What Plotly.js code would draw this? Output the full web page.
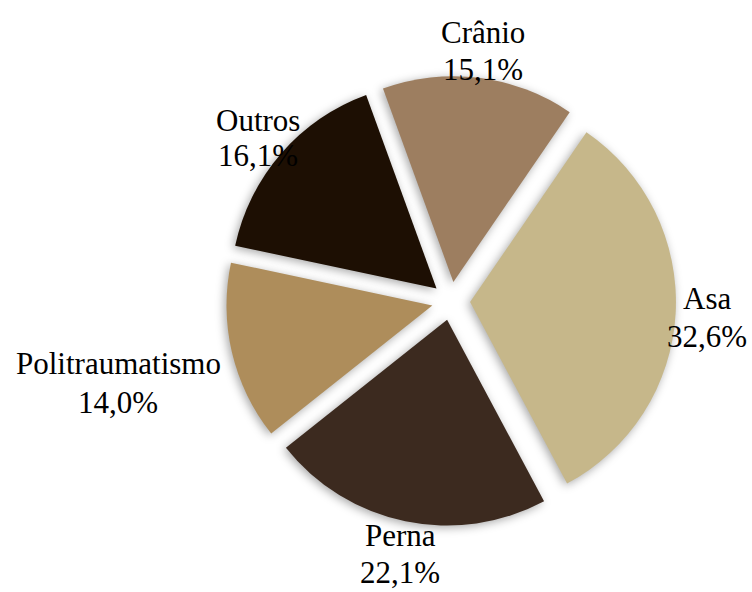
<!DOCTYPE html>
<html><head><meta charset="utf-8">
<script src="https://cdn.plot.ly/plotly-3.0.1.min.js"></script>
<style>
html,body{margin:0;padding:0;background:#fff;}
#chart{width:752px;height:592px;}
.slice path.surface{filter: drop-shadow(-2px 2px 5px rgba(0,0,0,0.35));}
</style>
</head><body>
<div id="chart"></div>
<script>
const categories = ["Crânio", "Asa", "Perna", "Politraumatismo", "Outros"];
const percentages = [15.1, 32.6, 22.1, 14.0, 16.1];
const sliceColors = ["#9D7E60", "#C6B78A", "#3C2A1F", "#AE8D5B", "#1D0F03"];
// label line centres in pixels [x, yName, yPercent] (layout only)
const labelPos = [[483, 32.5, 69], [706.5, 298, 336], [400, 535, 572.5], [118, 363.5, 402], [258, 120, 155]];

const W = 752, H = 592;
const fmt = v => v.toFixed(1).replace('.', ',') + '%';

const trace = {
  type: 'pie',
  labels: categories,
  values: percentages,
  sort: false,
  direction: 'clockwise',
  rotation: -20,
  pull: 0.093,
  marker: {colors: sliceColors, line: {width: 0}},
  textinfo: 'none',
  hoverinfo: 'label+percent',
  showlegend: false,
  domain: {x: [0.3005, 0.8989], y: [0.1115, 0.8716]}
};

const labelFont = {family: 'Liberation Serif, Times New Roman, serif', size: 31, color: '#000'};
const annotations = [];
categories.forEach((c, i) => {
  const [px, y1, y2] = labelPos[i];
  [[c, y1], [fmt(percentages[i]), y2]].forEach(([t, py]) => {
    annotations.push({
      xref: 'paper', yref: 'paper',
      x: px / W, y: 1 - py / H,
      xanchor: 'center', yanchor: 'middle',
      text: t, showarrow: false, font: labelFont
    });
  });
});

const layout = {
  width: W, height: H,
  margin: {l: 0, r: 0, t: 0, b: 0},
  paper_bgcolor: '#fff',
  separators: ',.',
  annotations: annotations
};

Plotly.newPlot('chart', [trace], layout, {displayModeBar: false, staticPlot: true});
</script>
</body></html>
